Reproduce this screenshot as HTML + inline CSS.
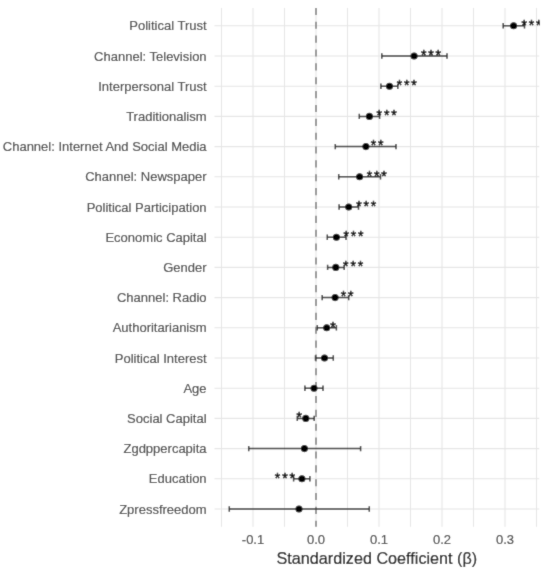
<!DOCTYPE html><html><head><meta charset="utf-8"><style>html,body{margin:0;padding:0;background:#fff;width:550px;height:574px;overflow:hidden}svg{display:block;will-change:transform}*{-webkit-font-smoothing:antialiased}text{font-family:"Liberation Sans",sans-serif}</style></head><body>
<svg width="550" height="574" viewBox="0 0 550 574">
<defs><filter id="bl" filterUnits="userSpaceOnUse" x="0" y="0" width="550" height="574"><feConvolveMatrix order="3" kernelMatrix="0.02 0.08 0.02 0.08 0.6 0.08 0.02 0.08 0.02" edgeMode="duplicate"/></filter></defs>
<g filter="url(#bl)"><rect width="550" height="574" fill="#fff"/>
<defs><clipPath id="pc"><rect x="214.5" y="7.9" width="325.50000000000006" height="518.9"/></clipPath></defs>
<line x1="221.50" y1="7.9" x2="221.50" y2="526.8" stroke="#e5e5e5" stroke-width="1.0"/>
<line x1="284.50" y1="7.9" x2="284.50" y2="526.8" stroke="#e5e5e5" stroke-width="1.0"/>
<line x1="347.50" y1="7.9" x2="347.50" y2="526.8" stroke="#e5e5e5" stroke-width="1.0"/>
<line x1="410.50" y1="7.9" x2="410.50" y2="526.8" stroke="#e5e5e5" stroke-width="1.0"/>
<line x1="473.50" y1="7.9" x2="473.50" y2="526.8" stroke="#e5e5e5" stroke-width="1.0"/>
<line x1="536.50" y1="7.9" x2="536.50" y2="526.8" stroke="#e5e5e5" stroke-width="1.0"/>
<line x1="214.5" y1="25.80" x2="539.2" y2="25.80" stroke="#e5e5e5" stroke-width="1.1"/>
<line x1="214.5" y1="56.00" x2="539.2" y2="56.00" stroke="#e5e5e5" stroke-width="1.1"/>
<line x1="214.5" y1="86.20" x2="539.2" y2="86.20" stroke="#e5e5e5" stroke-width="1.1"/>
<line x1="214.5" y1="116.40" x2="539.2" y2="116.40" stroke="#e5e5e5" stroke-width="1.1"/>
<line x1="214.5" y1="146.60" x2="539.2" y2="146.60" stroke="#e5e5e5" stroke-width="1.1"/>
<line x1="214.5" y1="176.80" x2="539.2" y2="176.80" stroke="#e5e5e5" stroke-width="1.1"/>
<line x1="214.5" y1="207.00" x2="539.2" y2="207.00" stroke="#e5e5e5" stroke-width="1.1"/>
<line x1="214.5" y1="237.20" x2="539.2" y2="237.20" stroke="#e5e5e5" stroke-width="1.1"/>
<line x1="214.5" y1="267.40" x2="539.2" y2="267.40" stroke="#e5e5e5" stroke-width="1.1"/>
<line x1="214.5" y1="297.60" x2="539.2" y2="297.60" stroke="#e5e5e5" stroke-width="1.1"/>
<line x1="214.5" y1="327.80" x2="539.2" y2="327.80" stroke="#e5e5e5" stroke-width="1.1"/>
<line x1="214.5" y1="358.00" x2="539.2" y2="358.00" stroke="#e5e5e5" stroke-width="1.1"/>
<line x1="214.5" y1="388.20" x2="539.2" y2="388.20" stroke="#e5e5e5" stroke-width="1.1"/>
<line x1="214.5" y1="418.40" x2="539.2" y2="418.40" stroke="#e5e5e5" stroke-width="1.1"/>
<line x1="214.5" y1="448.60" x2="539.2" y2="448.60" stroke="#e5e5e5" stroke-width="1.1"/>
<line x1="214.5" y1="478.80" x2="539.2" y2="478.80" stroke="#e5e5e5" stroke-width="1.1"/>
<line x1="214.5" y1="509.00" x2="539.2" y2="509.00" stroke="#e5e5e5" stroke-width="1.1"/>
<line x1="253.00" y1="7.9" x2="253.00" y2="526.8" stroke="#e5e5e5" stroke-width="1.1"/>
<line x1="316.00" y1="7.9" x2="316.00" y2="526.8" stroke="#e5e5e5" stroke-width="1.1"/>
<line x1="379.00" y1="7.9" x2="379.00" y2="526.8" stroke="#e5e5e5" stroke-width="1.1"/>
<line x1="442.00" y1="7.9" x2="442.00" y2="526.8" stroke="#e5e5e5" stroke-width="1.1"/>
<line x1="505.00" y1="7.9" x2="505.00" y2="526.8" stroke="#e5e5e5" stroke-width="1.1"/>
<line x1="316.0" y1="7.9" x2="316.0" y2="526.8" stroke="#7f7f7f" stroke-width="1.6" stroke-dasharray="7.1 6.76"/>
<text x="206.6" y="30.40" font-size="13" fill="#3d3d3d" stroke="#3d3d3d" stroke-width="0.15" text-anchor="end">Political Trust</text>
<text x="206.6" y="60.60" font-size="13" fill="#3d3d3d" stroke="#3d3d3d" stroke-width="0.15" text-anchor="end">Channel: Television</text>
<text x="206.6" y="90.80" font-size="13" fill="#3d3d3d" stroke="#3d3d3d" stroke-width="0.15" text-anchor="end">Interpersonal Trust</text>
<text x="206.6" y="121.00" font-size="13" fill="#3d3d3d" stroke="#3d3d3d" stroke-width="0.15" text-anchor="end">Traditionalism</text>
<text x="206.6" y="151.20" font-size="13" fill="#3d3d3d" stroke="#3d3d3d" stroke-width="0.15" text-anchor="end">Channel: Internet And Social Media</text>
<text x="206.6" y="181.40" font-size="13" fill="#3d3d3d" stroke="#3d3d3d" stroke-width="0.15" text-anchor="end">Channel: Newspaper</text>
<text x="206.6" y="211.60" font-size="13" fill="#3d3d3d" stroke="#3d3d3d" stroke-width="0.15" text-anchor="end">Political Participation</text>
<text x="206.6" y="241.80" font-size="13" fill="#3d3d3d" stroke="#3d3d3d" stroke-width="0.15" text-anchor="end">Economic Capital</text>
<text x="206.6" y="272.00" font-size="13" fill="#3d3d3d" stroke="#3d3d3d" stroke-width="0.15" text-anchor="end">Gender</text>
<text x="206.6" y="302.20" font-size="13" fill="#3d3d3d" stroke="#3d3d3d" stroke-width="0.15" text-anchor="end">Channel: Radio</text>
<text x="206.6" y="332.40" font-size="13" fill="#3d3d3d" stroke="#3d3d3d" stroke-width="0.15" text-anchor="end">Authoritarianism</text>
<text x="206.6" y="362.60" font-size="13" fill="#3d3d3d" stroke="#3d3d3d" stroke-width="0.15" text-anchor="end">Political Interest</text>
<text x="206.6" y="392.80" font-size="13" fill="#3d3d3d" stroke="#3d3d3d" stroke-width="0.15" text-anchor="end">Age</text>
<text x="206.6" y="423.00" font-size="13" fill="#3d3d3d" stroke="#3d3d3d" stroke-width="0.15" text-anchor="end">Social Capital</text>
<text x="206.6" y="453.20" font-size="13" fill="#3d3d3d" stroke="#3d3d3d" stroke-width="0.15" text-anchor="end">Zgdppercapita</text>
<text x="206.6" y="483.40" font-size="13" fill="#3d3d3d" stroke="#3d3d3d" stroke-width="0.15" text-anchor="end">Education</text>
<text x="206.6" y="513.60" font-size="13" fill="#3d3d3d" stroke="#3d3d3d" stroke-width="0.15" text-anchor="end">Zpressfreedom</text>
<g clip-path="url(#pc)">
<path d="M503.20 25.80H524.50M503.20 23.10V28.50M524.50 23.10V28.50" stroke="#333" stroke-width="1.5" fill="none"/>
<circle cx="513.60" cy="25.80" r="3.55" fill="#000"/>
<text x="521.38" y="29.68" font-size="14" letter-spacing="1.9" fill="#000" stroke="#000" stroke-width="0.5">***</text>
<path d="M381.80 56.00H447.00M381.80 53.30V58.70M447.00 53.30V58.70" stroke="#333" stroke-width="1.5" fill="none"/>
<circle cx="414.10" cy="56.00" r="3.55" fill="#000"/>
<text x="420.88" y="59.88" font-size="14" letter-spacing="1.9" fill="#000" stroke="#000" stroke-width="0.5">***</text>
<path d="M380.90 86.20H397.80M380.90 83.50V88.90M397.80 83.50V88.90" stroke="#333" stroke-width="1.5" fill="none"/>
<circle cx="389.50" cy="86.20" r="3.55" fill="#000"/>
<text x="396.68" y="90.08" font-size="14" letter-spacing="1.9" fill="#000" stroke="#000" stroke-width="0.5">***</text>
<path d="M359.30 116.40H379.60M359.30 113.70V119.10M379.60 113.70V119.10" stroke="#333" stroke-width="1.5" fill="none"/>
<circle cx="369.40" cy="116.40" r="3.55" fill="#000"/>
<text x="376.58" y="120.28" font-size="14" letter-spacing="1.9" fill="#000" stroke="#000" stroke-width="0.5">***</text>
<path d="M335.30 146.60H396.00M335.30 143.90V149.30M396.00 143.90V149.30" stroke="#333" stroke-width="1.5" fill="none"/>
<circle cx="365.90" cy="146.60" r="3.55" fill="#000"/>
<text x="370.68" y="150.48" font-size="14" letter-spacing="1.9" fill="#000" stroke="#000" stroke-width="0.5">**</text>
<path d="M338.70 176.80H380.50M338.70 174.10V179.50M380.50 174.10V179.50" stroke="#333" stroke-width="1.5" fill="none"/>
<circle cx="359.60" cy="176.80" r="3.55" fill="#000"/>
<text x="366.68" y="180.68" font-size="14" letter-spacing="1.9" fill="#000" stroke="#000" stroke-width="0.5">***</text>
<path d="M339.10 207.00H358.50M339.10 204.30V209.70M358.50 204.30V209.70" stroke="#333" stroke-width="1.5" fill="none"/>
<circle cx="348.70" cy="207.00" r="3.55" fill="#000"/>
<text x="356.18" y="210.88" font-size="14" letter-spacing="1.9" fill="#000" stroke="#000" stroke-width="0.5">***</text>
<path d="M327.30 237.20H346.00M327.30 234.50V239.90M346.00 234.50V239.90" stroke="#333" stroke-width="1.5" fill="none"/>
<circle cx="336.40" cy="237.20" r="3.55" fill="#000"/>
<text x="343.38" y="241.08" font-size="14" letter-spacing="1.9" fill="#000" stroke="#000" stroke-width="0.5">***</text>
<path d="M327.60 267.40H344.20M327.60 264.70V270.10M344.20 264.70V270.10" stroke="#333" stroke-width="1.5" fill="none"/>
<circle cx="335.80" cy="267.40" r="3.55" fill="#000"/>
<text x="343.08" y="271.28" font-size="14" letter-spacing="1.9" fill="#000" stroke="#000" stroke-width="0.5">***</text>
<path d="M322.20 297.60H348.70M322.20 294.90V300.30M348.70 294.90V300.30" stroke="#333" stroke-width="1.5" fill="none"/>
<circle cx="335.10" cy="297.60" r="3.55" fill="#000"/>
<text x="340.68" y="301.48" font-size="14" letter-spacing="1.9" fill="#000" stroke="#000" stroke-width="0.5">**</text>
<path d="M317.30 327.80H336.40M317.30 325.10V330.50M336.40 325.10V330.50" stroke="#333" stroke-width="1.5" fill="none"/>
<circle cx="326.70" cy="327.80" r="3.55" fill="#000"/>
<text x="330.28" y="331.68" font-size="14" letter-spacing="1.9" fill="#000" stroke="#000" stroke-width="0.5">*</text>
<path d="M315.50 358.00H333.30M315.50 355.30V360.70M333.30 355.30V360.70" stroke="#333" stroke-width="1.5" fill="none"/>
<circle cx="324.50" cy="358.00" r="3.55" fill="#000"/>
<path d="M304.90 388.20H323.00M304.90 385.50V390.90M323.00 385.50V390.90" stroke="#333" stroke-width="1.5" fill="none"/>
<circle cx="314.00" cy="388.20" r="3.55" fill="#000"/>
<path d="M297.30 418.40H314.20M297.30 415.70V421.10M314.20 415.70V421.10" stroke="#333" stroke-width="1.5" fill="none"/>
<circle cx="305.80" cy="418.40" r="3.55" fill="#000"/>
<text x="303.94" y="422.28" font-size="14" letter-spacing="1.9" fill="#000" stroke="#000" stroke-width="0.5" text-anchor="end">*</text>
<path d="M248.70 448.60H360.60M248.70 445.90V451.30M360.60 445.90V451.30" stroke="#333" stroke-width="1.5" fill="none"/>
<circle cx="304.40" cy="448.60" r="3.55" fill="#000"/>
<path d="M293.60 478.80H309.90M293.60 476.10V481.50M309.90 476.10V481.50" stroke="#333" stroke-width="1.5" fill="none"/>
<circle cx="301.90" cy="478.80" r="3.55" fill="#000"/>
<text x="296.84" y="482.68" font-size="14" letter-spacing="1.9" fill="#000" stroke="#000" stroke-width="0.5" text-anchor="end">***</text>
<path d="M229.30 509.00H369.30M229.30 506.30V511.70M369.30 506.30V511.70" stroke="#333" stroke-width="1.5" fill="none"/>
<circle cx="299.00" cy="509.00" r="3.55" fill="#000"/>
</g>
<text x="253.00" y="543.9" font-size="13" fill="#3d3d3d" stroke="#3d3d3d" stroke-width="0.15" text-anchor="middle">-0.1</text>
<text x="316.00" y="543.9" font-size="13" fill="#3d3d3d" stroke="#3d3d3d" stroke-width="0.15" text-anchor="middle">0.0</text>
<text x="379.00" y="543.9" font-size="13" fill="#3d3d3d" stroke="#3d3d3d" stroke-width="0.15" text-anchor="middle">0.1</text>
<text x="442.00" y="543.9" font-size="13" fill="#3d3d3d" stroke="#3d3d3d" stroke-width="0.15" text-anchor="middle">0.2</text>
<text x="505.00" y="543.9" font-size="13" fill="#3d3d3d" stroke="#3d3d3d" stroke-width="0.15" text-anchor="middle">0.3</text>
<text x="376.85" y="563.6" font-size="16.2" fill="#000" stroke="#000" stroke-width="0.15" text-anchor="middle">Standardized Coefficient (β)</text>
</g></svg></body></html>
